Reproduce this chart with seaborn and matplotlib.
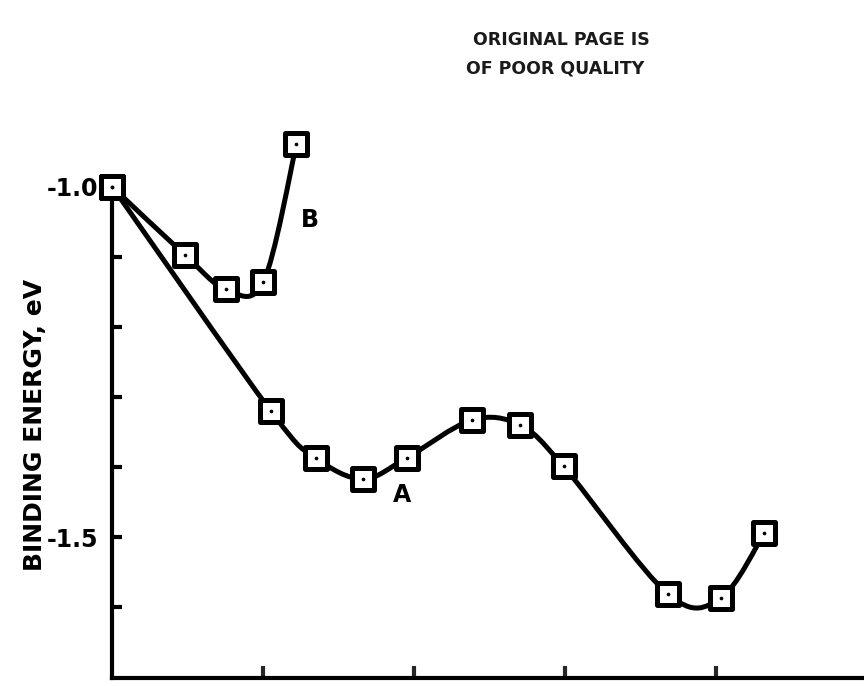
import numpy as np
import matplotlib
matplotlib.use("Agg")
import matplotlib.pyplot as plt
import seaborn as sns
from matplotlib.path import Path
from matplotlib.patches import PathPatch
from matplotlib.markers import MarkerStyle

# ---- data ----
a_x = [0.0, 1.05, 1.35, 1.66, 1.95, 2.38, 2.70, 2.99, 3.68, 4.03, 4.32]
a_y = [-1.000, -1.320, -1.387, -1.417, -1.387, -1.333, -1.340, -1.399, -1.581, -1.587, -1.494]
b_x = [0.0, 0.48, 0.75, 1.00, 1.22]
b_y = [-1.000, -1.097, -1.146, -1.136, -0.939]

y_ticks = [-1.0, -1.1, -1.2, -1.3, -1.4, -1.5, -1.6]
y_ticklabels = ["-1.0", "", "", "", "", "-1.5", ""]
x_ticks = [1, 2, 3, 4]

sns.set_theme(style="white")
plt.rcParams["font.family"] = ["DejaVu Sans"]
plt.rcParams["text.color"] = "black"


def smooth_path(xs, ys):
    P = np.column_stack([xs, ys])
    n = len(P)
    verts = [P[0]]
    codes = [Path.MOVETO]
    for i in range(n - 1):
        p0 = P[i - 1] if i > 0 else P[i]
        p3 = P[i + 2] if i + 2 < n else P[i + 1]
        c1 = P[i] + (P[i + 1] - p0) / 6.0
        c2 = P[i + 1] - (p3 - P[i]) / 6.0
        verts += [c1, c2, P[i + 1]]
        codes += [Path.CURVE4] * 3
    return Path(verts, codes)


fig = plt.figure(figsize=(8.64, 6.86), dpi=100)
ax = fig.add_axes([0.13, 0.0117, 0.87, 0.8426])

for xs, ys in [(a_x, a_y), (b_x, b_y)]:
    ax.add_patch(PathPatch(smooth_path(xs, ys), facecolor="none",
                           edgecolor="black", lw=3.6, capstyle="round",
                           joinstyle="round", zorder=2, clip_on=False))

sq = MarkerStyle("s", joinstyle="round")
for xs, ys in [(a_x, a_y), (b_x, b_y)]:
    sns.scatterplot(x=xs, y=ys, ax=ax, marker=sq, s=240, color="white",
                    edgecolor="black", linewidth=3.6, zorder=3, legend=False,
                    clip_on=False)
    sns.scatterplot(x=xs, y=ys, ax=ax, marker="o", s=7, color="black",
                    edgecolor="black", linewidth=0, zorder=4, legend=False,
                    clip_on=False)

ax.set_xlim(0, 4.98)
ax.set_ylim(-1.701, -0.876)

for s in ["top", "right"]:
    ax.spines[s].set_visible(False)
for s in ["left", "bottom"]:
    ax.spines[s].set_linewidth(3)
    ax.spines[s].set_color("black")
ax.spines["left"].set_bounds(-1.701, -1.0)

ax.set_yticks(y_ticks)
ax.set_yticklabels(y_ticklabels, fontsize=17, fontweight="bold")
ax.set_xticks(x_ticks)
ax.set_xticklabels([])
ax.tick_params(axis="y", direction="in", length=7.5, width=3, pad=10,
               left=True, colors="black")
ax.tick_params(axis="x", direction="in", length=9, width=3, bottom=True)
ax.set_xlabel("")
ax.set_ylabel("")

ax.text(1.92, -1.44, "A", fontsize=17, fontweight="bold", ha="center", va="center")
ax.text(1.31, -1.047, "B", fontsize=17, fontweight="bold", ha="center", va="center")

fig.text(35 / 864, 1 - 425 / 686, "BINDING ENERGY, eV", rotation=90,
         fontsize=18, fontweight="bold", ha="center", va="center")

fig.text(561 / 864, 1 - 40 / 686, "ORIGINAL PAGE IS", fontsize=12.5,
         fontweight="bold", ha="center", va="center", color="#1a1a1a")
fig.text(555 / 864, 1 - 68 / 686, "OF POOR QUALITY", fontsize=12.5,
         fontweight="bold", ha="center", va="center", color="#1a1a1a")

fig.savefig("out.png", dpi=100)
